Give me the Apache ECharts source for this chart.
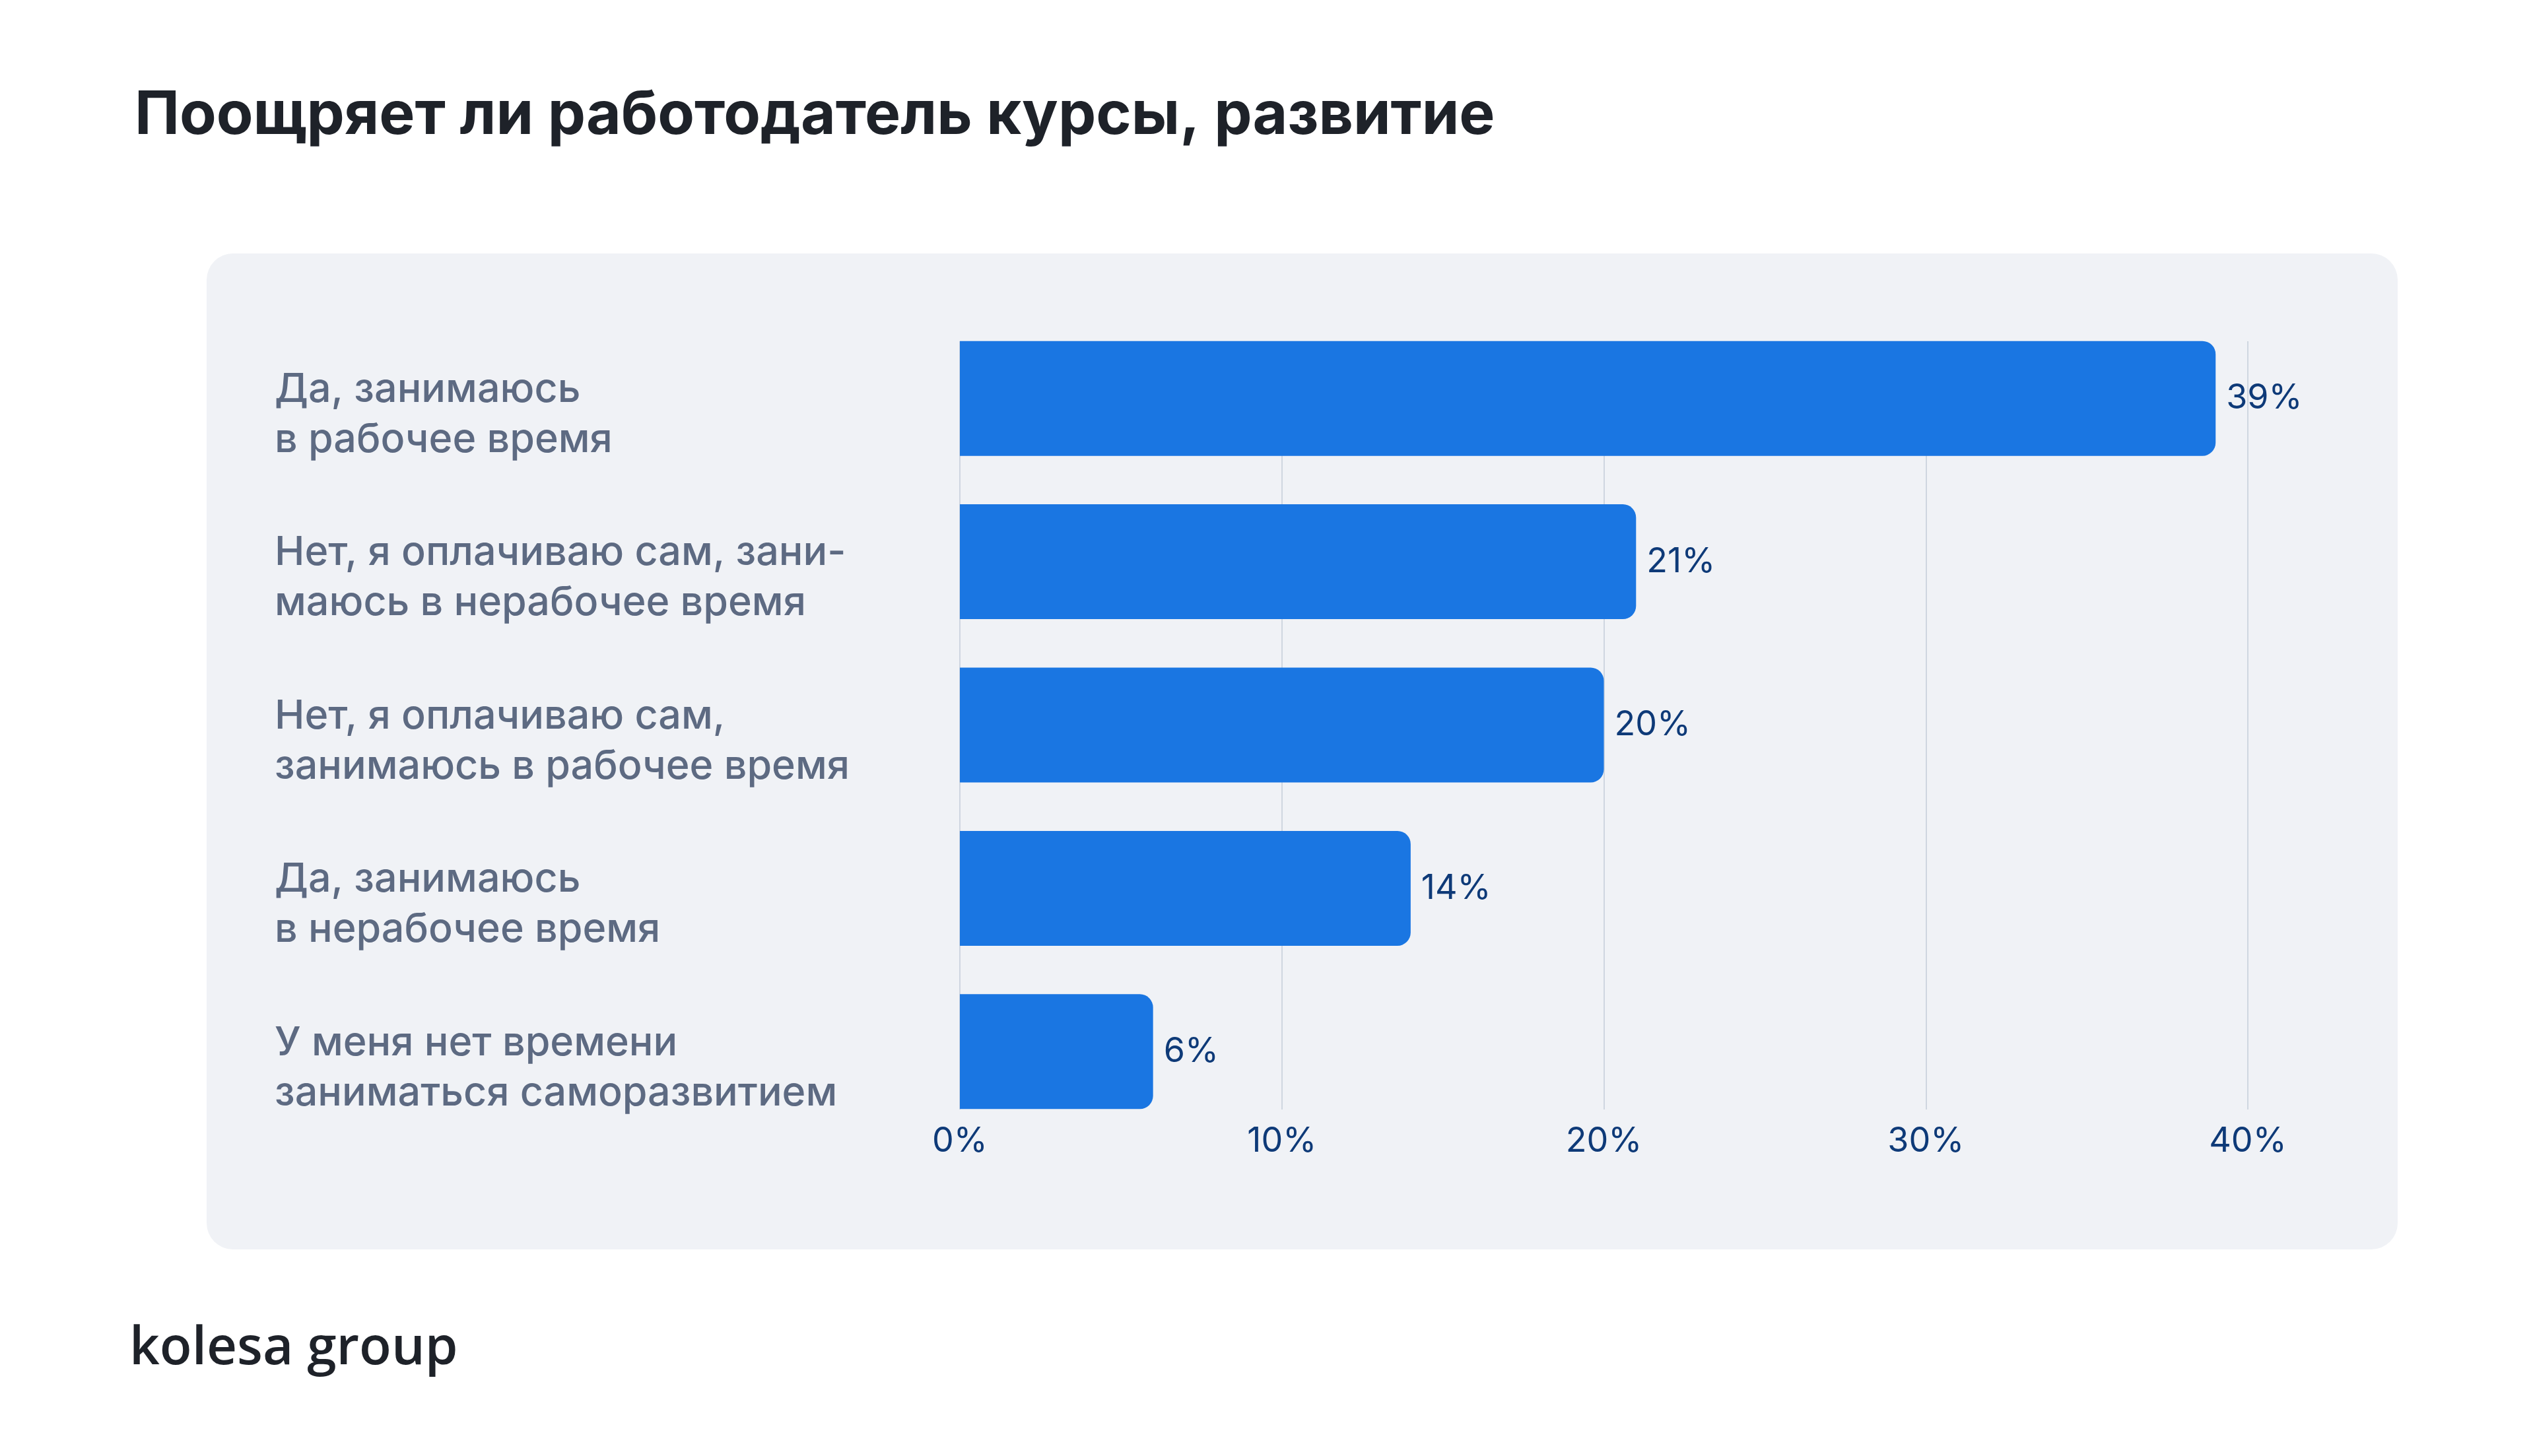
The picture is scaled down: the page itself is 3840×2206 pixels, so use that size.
<!DOCTYPE html>
<html><head><meta charset="utf-8">
<script src="https://cdn.jsdelivr.net/npm/echarts@6/dist/echarts.min.js"></script>
<style>html,body{margin:0;padding:0;background:#fff}#c{width:3840px;height:2206px}</style>
</head><body><div id="c"></div>
<script>
const titleText = 'Поощряет ли работодатель курсы, развитие';
const categories = [
  'Да, занимаюсь\nв рабочее время',
  'Нет, я оплачиваю сам, зани-\nмаюсь в нерабочее время',
  'Нет, я оплачиваю сам,\nзанимаюсь в рабочее время',
  'Да, занимаюсь\nв нерабочее время',
  'У меня нет времени\nзаниматься саморазвитием'
];
const values = [39, 21, 20, 14, 6];
const axisMin = 0, axisMax = 40, axisStep = 10;
const logoText = 'kolesa group';

const chart = echarts.init(document.getElementById('c'), null, {renderer: 'canvas'});
const FONT = 'Inter';
chart.setOption({
  backgroundColor: '#ffffff',
  animation: false,
  graphic: [
    {type: 'rect', z: -10, shape: {x: 313, y: 384, width: 3319, height: 1509, r: 40}, style: {fill: '#f0f2f6'}},
    {type: 'text', left: 204, top: 130, style: {text: titleText, fontFamily: FONT, fontWeight: 700, fontSize: 91, fill: '#1e2229'}},
    {type: 'text', left: 196, top: 2004, style: {text: logoText, fontFamily: 'Open Sans', fontWeight: 600, fontSize: 80, fill: '#1e2229'}}
  ],
  grid: [
    {left: 1454, right: 435, top: 480, height: 1237},
    {left: 1454, right: 435, top: 517, height: 1164}
  ],
  xAxis: [
    {gridIndex: 0, type: 'value', min: axisMin, max: axisMax, interval: axisStep, show: false, splitLine: {show: false}},
    {gridIndex: 1, type: 'value', min: axisMin, max: axisMax, interval: axisStep,
     axisLine: {show: false}, axisTick: {show: false},
     splitLine: {show: true, lineStyle: {color: '#cfd6e0', width: 2}},
     axisLabel: {formatter: '{value}%', color: '#0e3a78', fontFamily: FONT, fontSize: 52, margin: 22}}
  ],
  yAxis: [
    {gridIndex: 0, type: 'category', data: categories, inverse: true,
     axisLine: {show: false}, axisTick: {show: false}, splitLine: {show: false},
     axisLabel: {
       align: 'left', margin: 1038,
       formatter: v => '{s| }\n' + v.split('\n').map(l => '{t|' + l + '}').join('\n'),
       rich: {
         s: {fontSize: 1, lineHeight: 50},
         t: {color: '#5d6a82', fontFamily: FONT, fontWeight: 500, fontSize: 61, lineHeight: 76}
       }
     }},
    {gridIndex: 1, type: 'category', data: categories, show: false}
  ],
  series: [{
    type: 'bar', xAxisIndex: 0, yAxisIndex: 0, data: values, barWidth: 174,
    itemStyle: {color: '#1a76e2', borderRadius: [0, 20, 20, 0]},
    label: {show: true, position: 'right', distance: 16, formatter: '{c}%', color: '#0e3a78', fontFamily: FONT, fontSize: 52}
  }]
});
</script></body></html>
